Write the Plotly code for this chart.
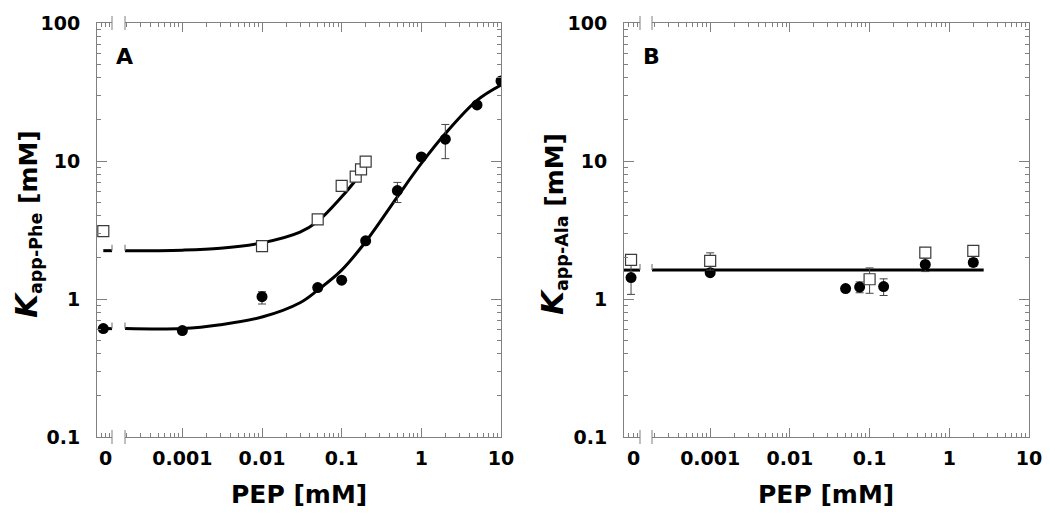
import numpy as np
import plotly.graph_objects as go

# ---------------- data ----------------
# Panel A (Phe)
phe_circ_x = [0, 0.001, 0.01, 0.05, 0.1, 0.2, 0.5, 1, 2, 5, 10]
phe_circ_y = [0.61, 0.59, 1.04, 1.21, 1.37, 2.64, 6.1, 10.7, 14.4, 25.5, 38.0]
phe_circ_ep = [0, 0, 0.09, 0, 0, 0, 0.9, 0, 4.0, 0, 0]
phe_circ_em = [0, 0, 0.12, 0, 0, 0, 1.1, 0, 4.0, 0, 0]

phe_sq_x = [0, 0.01, 0.05, 0.1, 0.15, 0.175, 0.2]
phe_sq_y = [3.1, 2.42, 3.78, 6.6, 7.7, 8.7, 9.9]

phe_fit_low_x = [0.00019, 0.001, 0.003, 0.01, 0.03, 0.05, 0.1, 0.2, 0.5, 1, 2, 5, 10]
phe_fit_low_y = [0.61, 0.61, 0.65, 0.74, 0.94, 1.16, 1.62, 2.6, 5.5, 9.6, 15.8, 27.5, 35.5]
phe_fit_up_x = [0.00019, 0.001, 0.003, 0.01, 0.03, 0.05, 0.1, 0.16]
phe_fit_up_y = [2.24, 2.26, 2.33, 2.55, 3.05, 3.65, 5.5, 7.6]

# Panel B (Ala)
ala_circ_x = [0, 0.001, 0.05, 0.075, 0.15, 0.5, 2]
ala_circ_y = [1.43, 1.55, 1.19, 1.22, 1.23, 1.78, 1.84]
ala_circ_e = [0.35, 0, 0, 0.11, 0.17, 0.2, 0.12]

ala_sq_x = [0, 0.001, 0.1, 0.5, 2]
ala_sq_y = [1.92, 1.89, 1.39, 2.17, 2.23]
ala_sq_e = [0, 0.27, 0.29, 0, 0]

ala_fit_x = [0.000186, 2.7]
ala_fit_y = [1.62, 1.62]

x_tickvals = [0.001, 0.01, 0.1, 1, 10]
x_ticktext = ["0.001", "0.01", "0.1", "1", "10"]
y_tickvals = [0.1, 1, 10, 100]
y_ticktext = ["0.1", "1", "10", "100"]
zero_tickvals = [-0.15, 0.16, 0.38]
zero_ticktext = ["", "0", ""]

# ---------------- layout geometry ----------------
W, H = 1050, 521
ML, MR, MT, MB = 97, 21, 23, 84
PW = W - ML - MR
PH = H - MT - MB

def fx(px):
    return (px - ML) / PW

def fy(py):
    return (H - MB - py) / PH

dom_a0 = [fx(97), fx(112)]
dom_a1 = [fx(125), fx(501)]
dom_b0 = [fx(624), fx(640)]
dom_b1 = [fx(652), fx(1029)]

GREY = "#808080"
FONT = "DejaVu Sans"
tickfont = dict(family=FONT, size=19, color="black", weight="bold")

minor_x = [m * 10.0 ** k for k in range(-4, 1) for m in range(2, 10)]
minor_y = [m * 10.0 ** k for k in range(-1, 2) for m in range(2, 10)]

fig = go.Figure()

def split(xs, ys, *errs):
    zero = [i for i, v in enumerate(xs) if v == 0]
    rest = [i for i, v in enumerate(xs) if v != 0]
    def pick(arr, idx):
        return [arr[i] for i in idx]
    return ((pick(xs, zero), pick(ys, zero), [pick(e, zero) for e in errs]),
            (pick(xs, rest), pick(ys, rest), [pick(e, rest) for e in errs]))

circ_marker = dict(symbol="circle", size=11, color="black", line=dict(width=0))
sq_marker = dict(symbol="square", size=11, color="white", line=dict(color="#3a3a3a", width=1.2))

def err(p, m=None):
    d = dict(type="data", array=p, visible=True, color="#444", thickness=1, width=4)
    if m is not None:
        d["arrayminus"] = m
        d["symmetric"] = False
    return d

# ---- Panel A ----
for yv in (phe_fit_low_y[0], phe_fit_up_y[0]):
    fig.add_trace(go.Scatter(x=[0, 0.58], y=[yv, yv], mode="lines",
                             line=dict(color="black", width=3), xaxis="x", yaxis="y",
                             showlegend=False, hoverinfo="skip"))
fig.add_trace(go.Scatter(x=phe_fit_low_x, y=phe_fit_low_y, mode="lines",
                         line=dict(color="black", width=3, shape="spline"),
                         xaxis="x2", yaxis="y", showlegend=False))
fig.add_trace(go.Scatter(x=phe_fit_up_x, y=phe_fit_up_y, mode="lines",
                         line=dict(color="black", width=3, shape="spline"),
                         xaxis="x2", yaxis="y", showlegend=False))

(z, r) = split(phe_circ_x, phe_circ_y, phe_circ_ep, phe_circ_em)
fig.add_trace(go.Scatter(x=z[0], y=z[1], mode="markers", marker=circ_marker,
                         xaxis="x", yaxis="y", showlegend=False))
fig.add_trace(go.Scatter(x=r[0], y=r[1], mode="markers", marker=circ_marker,
                         error_y=err(r[2][0], r[2][1]),
                         xaxis="x2", yaxis="y", showlegend=False))
(z, r) = split(phe_sq_x, phe_sq_y)
fig.add_trace(go.Scatter(x=z[0], y=z[1], mode="markers", marker=sq_marker,
                         xaxis="x", yaxis="y", showlegend=False))
fig.add_trace(go.Scatter(x=r[0], y=r[1], mode="markers", marker=sq_marker,
                         xaxis="x2", yaxis="y", showlegend=False))

# ---- Panel B ----
fig.add_trace(go.Scatter(x=[-0.44, 0.56], y=[ala_fit_y[0], ala_fit_y[0]], mode="lines",
                         line=dict(color="black", width=3), xaxis="x3", yaxis="y3",
                         showlegend=False))
fig.add_trace(go.Scatter(x=ala_fit_x, y=ala_fit_y, mode="lines",
                         line=dict(color="black", width=3),
                         xaxis="x4", yaxis="y3", showlegend=False))
(z, r) = split(ala_circ_x, ala_circ_y, ala_circ_e)
fig.add_trace(go.Scatter(x=z[0], y=z[1], mode="markers", marker=circ_marker,
                         error_y=err(z[2][0]), xaxis="x3", yaxis="y3", showlegend=False))
fig.add_trace(go.Scatter(x=r[0], y=r[1], mode="markers", marker=circ_marker,
                         error_y=err(r[2][0]), xaxis="x4", yaxis="y3", showlegend=False))
(z, r) = split(ala_sq_x, ala_sq_y, ala_sq_e)
fig.add_trace(go.Scatter(x=z[0], y=z[1], mode="markers", marker=sq_marker,
                         error_y=err(z[2][0]), xaxis="x3", yaxis="y3", showlegend=False))
fig.add_trace(go.Scatter(x=r[0], y=r[1], mode="markers", marker=sq_marker,
                         error_y=err(r[2][0]), xaxis="x4", yaxis="y3", showlegend=False))

# invisible anchor traces so that the overlay (tick-only) axes get rendered
for xa, ya in (("x5", "y"), ("x", "y5"), ("x2", "y2"), ("x2", "y6"),
               ("x6", "y3"), ("x3", "y7"), ("x4", "y4"), ("x4", "y8")):
    xv = 0 if xa in ("x", "x3") else x_tickvals[1]
    fig.add_trace(go.Scatter(x=[xv], y=[y_tickvals[1]], mode="markers",
                             marker=dict(opacity=0, size=1), xaxis=xa, yaxis=ya,
                             showlegend=False, hoverinfo="skip"))

# ---------------- axes ----------------
def base(**kw):
    d = dict(showgrid=False, zeroline=False, tickcolor=GREY, tickwidth=1,
             linecolor=GREY, linewidth=1, tickfont=tickfont, tickmode="array")
    d.update(kw)
    return d

def zero_axis(domain, rng, anchor):
    return base(domain=domain, range=rng, type="linear", anchor=anchor,
                tickvals=zero_tickvals, ticktext=zero_ticktext, ticks="inside",
                ticklen=4, showline=True, mirror="ticks", ticklabelstandoff=4)

def main_x(domain, rng, anchor):
    return base(domain=domain, range=rng, type="log", anchor=anchor,
                tickvals=x_tickvals, ticktext=x_ticktext, ticks="inside", ticklen=9,
                showline=True, mirror="ticks", ticklabelstandoff=4)

def minor_xax(domain, rng, anchor, over):
    return base(domain=domain, range=rng, type="log", anchor=anchor, overlaying=over,
                tickvals=minor_x, ticks="inside", ticklen=4, showline=False,
                mirror="ticks", showticklabels=False)

def y_axis(anchor, side="left", overlaying=None, labels=True, vals=None, length=10):
    d = base(domain=[0, 1], range=[-1, 2], type="log", anchor=anchor, side=side,
             tickvals=vals if vals is not None else y_tickvals,
             ticks="inside", ticklen=length, showline=True,
             showticklabels=labels, ticklabelstandoff=12)
    if labels:
        d["ticktext"] = y_ticktext
    if overlaying:
        d["overlaying"] = overlaying
    return d

fig.update_layout(
    width=W, height=H,
    margin=dict(l=ML, r=MR, t=MT, b=MB, autoexpand=False),
    paper_bgcolor="white", plot_bgcolor="white", showlegend=False,
    xaxis=zero_axis(dom_a0, [-0.42, 0.58], "y"),
    xaxis2=main_x(dom_a1, [-3.72, 1], "y"),
    xaxis5=minor_xax(dom_a1, [-3.72, 1], "y", "x2"),
    xaxis3=zero_axis(dom_b0, [-0.44, 0.56], "y3"),
    xaxis4=main_x(dom_b1, [-3.73, 1], "y3"),
    xaxis6=minor_xax(dom_b1, [-3.73, 1], "y3", "x4"),
    yaxis=y_axis("x"),
    yaxis5=y_axis("x", overlaying="y", labels=False, vals=minor_y, length=4),
    yaxis2=y_axis("x2", side="right", overlaying="y", labels=False),
    yaxis6=y_axis("x2", side="right", overlaying="y", labels=False, vals=minor_y, length=4),
    yaxis3=y_axis("x3"),
    yaxis7=y_axis("x3", overlaying="y3", labels=False, vals=minor_y, length=4),
    yaxis4=y_axis("x4", side="right", overlaying="y3", labels=False),
    yaxis8=y_axis("x4", side="right", overlaying="y3", labels=False, vals=minor_y, length=4),
)

# ---------------- axis-break marks ----------------
shapes = []
def vmark(xp, yref, yanchor, half, color, width):
    return dict(type="line", xref="paper", x0=xp, x1=xp, yref=yref,
                ysizemode="pixel", yanchor=yanchor, y0=-half, y1=half,
                line=dict(color=color, width=width))

for xp in (dom_a0[1], dom_a1[0], dom_b0[1], dom_b1[0]):
    shapes.append(vmark(xp, "paper", 0, 7, GREY, 1))
    shapes.append(vmark(xp, "paper", 1, 7, GREY, 1))
for yv in (phe_fit_low_y[0], phe_fit_up_y[0]):
    for xp in (dom_a0[1], dom_a1[0]):
        shapes.append(vmark(xp, "y", yv, 6, GREY, 1.2))
for xp in (dom_b0[1], dom_b1[0]):
    shapes.append(vmark(xp, "y3", ala_fit_y[0], 6, GREY, 1.2))
fig.update_layout(shapes=shapes)

# ---------------- titles & labels ----------------
title_font = dict(family=FONT, size=25, color="black", weight="bold")
ann = []
ann.append(dict(text='<span style="font-size:31px"><i>K</i></span><sub>app-Phe</sub> [mM]',
                xref="paper", yref="paper", x=fx(27), y=fy(224), xanchor="center",
                yanchor="middle", textangle=-90, showarrow=False, font=title_font))
ann.append(dict(text='<span style="font-size:31px"><i>K</i></span><sub>app-Ala</sub> [mM]',
                xref="paper", yref="paper", x=fx(553), y=fy(224), xanchor="center",
                yanchor="middle", textangle=-90, showarrow=False, font=title_font))
for cx in (299, 826):
    ann.append(dict(text="PEP [mM]", xref="paper", yref="paper", x=fx(cx), y=fy(494),
                    xanchor="center", yanchor="middle", showarrow=False, font=title_font))
letter_font = dict(family=FONT, size=22, color="black", weight="bold")
ann.append(dict(text="A", xref="paper", yref="paper", x=fx(114), y=fy(56),
                xanchor="left", yanchor="middle", showarrow=False, font=letter_font))
ann.append(dict(text="B", xref="paper", yref="paper", x=fx(641), y=fy(56),
                xanchor="left", yanchor="middle", showarrow=False, font=letter_font))
fig.update_layout(annotations=ann)

fig.write_html("out.html", config={"displayModeBar": False},
               post_script="document.body.style.margin='0';document.body.style.overflow='hidden';")
